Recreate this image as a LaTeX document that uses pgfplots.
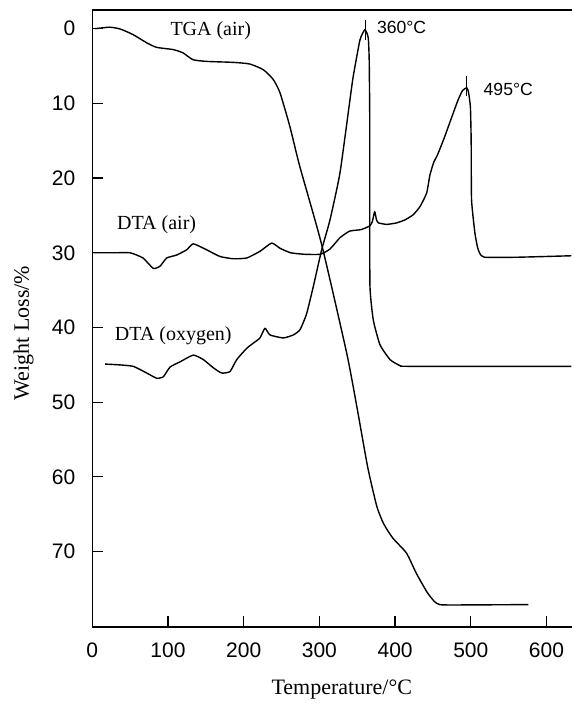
\documentclass[border=0pt]{standalone}
\usepackage{fontspec}
\setmainfont{Liberation Serif}
\newfontfamily\sansf{Liberation Sans}
\usepackage{pgfplots}
\pgfplotsset{compat=1.18}
\begin{document}
\begin{tikzpicture}
\begin{axis}[
  name=ax,
  scale only axis,
  width=239.85pt, height=308.5pt,
  xmin=0, xmax=633.7, ymin=-2.5, ymax=80.1,
  y dir=reverse,
  axis x line*=box, axis y line*=left,
  xtick={0,100,...,600}, ytick={0,10,...,70},
  xtick pos=left, ytick pos=left,
  tick align=inside,
  major tick length=5.5pt,
  tick style={line width=0.6pt, black},
  ticklabel style={font=\sansf\fontsize{10.5}{12}\selectfont},
  /pgf/number format/assume math mode=true,
  yticklabel style={xshift=-5pt},
  xticklabel style={yshift=-4.5pt},
  xlabel={Temperature/°C}, ylabel={Weight Loss/\%},
  label style={font=\fontsize{11}{13}\selectfont},
  xlabel style={at={(axis description cs:0.52,-0.102)}, anchor=center},
  ylabel style={at={(axis description cs:-0.143,0.4765)}, anchor=center},
  clip=false,
  axis line style={line width=0.7pt, black},
  every axis plot/.append style={black, line width=0.7pt, no markers, line join=round},
]
% TGA (air)
\addplot[smooth, tension=0.35] coordinates {
(4,0)(23,-0.2)(37,0.05)(54,0.8)(72,1.9)(85,2.5)(107,2.8)(120,3.25)(133,4.15)
(151,4.38)(186,4.51)(208,4.73)(226,5.5)(239,6.8)(248,8.6)(261,13.1)(274,18.4)
(303,28.9)(336,43.4)(350,50.9)(364,58.8)(376,64)(385,66.3)(397,68.2)(415,70.2)
(428,72.9)(442,75.4)(452,76.7)(459,77.1)(477,77.15)(576,77.1)};
% DTA (air)
\addplot[smooth, tension=0.3] coordinates {
(1.3,30.0)(30,30.0)(50,30.0)(67,30.7)(80.6,32.1)(89.4,31.8)(98.3,30.7)(111.5,30.3)
(124.7,29.6)(133.4,28.8)(151,29.6)(168.7,30.5)(186.3,30.8)(204,30.7)(221.5,29.8)
(237,28.7)(248,29.4)(262,30.0)(280,30.2)(301,30.2)(314,29.5)(327,28.0)(340,27.1)
(355,26.9)(366.6,26.4)(370,25.8)(373,24.5)(375.5,25.6)(378,26.0)(389,26.2)(402,26.0)
(413,25.6)(424,24.9)(433,23.8)(441.7,22.0)(446,19.6)(451,17.9)(456,16.9)(465,14.6)
(475,11.8)(483,9.6)(489,8.3)(494.6,7.9)(497,8.5)(499.5,10.5)(500.5,15)(501,22.9)
(505.5,27.4)(509,29.3)(512,30.1)(518,30.6)(560,30.6)(633,30.4)};
% DTA (oxygen)
\addplot[smooth, tension=0.3] coordinates {
(16.9,44.9)(35,45.0)(54.1,45.2)(71.9,46.1)(85.1,46.8)(93.8,46.6)(102.7,45.3)
(115.9,44.6)(133.4,43.7)(146.7,44.3)(159.9,45.4)(170.9,46.1)(181.9,45.9)(190.8,44.3)
(203.9,42.8)(212.7,42.1)(221.5,41.4)(228.1,40.1)(234.7,41.0)(252.3,41.4)(265.5,41.0)
(274.4,40.3)(283,38.2)(292,34.5)(303,29.6)(314,25.6)(327.2,19.3)(340.4,9.5)
(344.5,6.5)(353.6,1.5)(360.2,0.13)(364.5,1.2)(365.8,4.2)(366.5,12)(366.5,22.9)
(366.8,34.5)(371.2,39)(380,42.3)(393.3,44.3)(406.5,45.1)(420,45.2)(633,45.2)};
% peak markers
\addplot[line width=0.4pt] coordinates {(360.2,-1.2)(360.2,1.5)};
\addplot[line width=0.4pt] coordinates {(494.6,6.4)(494.6,9.0)};
% annotations
\node[font=\fontsize{10}{12}\selectfont] at (axis cs:156.5,0.33) {TGA (air)};
\node[font=\fontsize{10}{12}\selectfont] at (axis cs:85,26.25) {DTA (air)};
\node[font=\fontsize{10}{12}\selectfont] at (axis cs:107,41.1) {DTA (oxygen)};
\node[font=\sansf\fontsize{8.8}{10}\selectfont, anchor=west, inner sep=0pt] at (axis cs:375.7,-0.1) {360°C};
\node[font=\sansf\fontsize{8.8}{10}\selectfont, anchor=west, inner sep=0pt] at (axis cs:516.5,8.17) {495°C};
\end{axis}
\pgfresetboundingbox
\path[use as bounding box] ([shift={(-46.15pt,-38.5pt)}]ax.south west) rectangle ([shift={(1.5pt,5pt)}]ax.north east);
\end{tikzpicture}
\end{document}
